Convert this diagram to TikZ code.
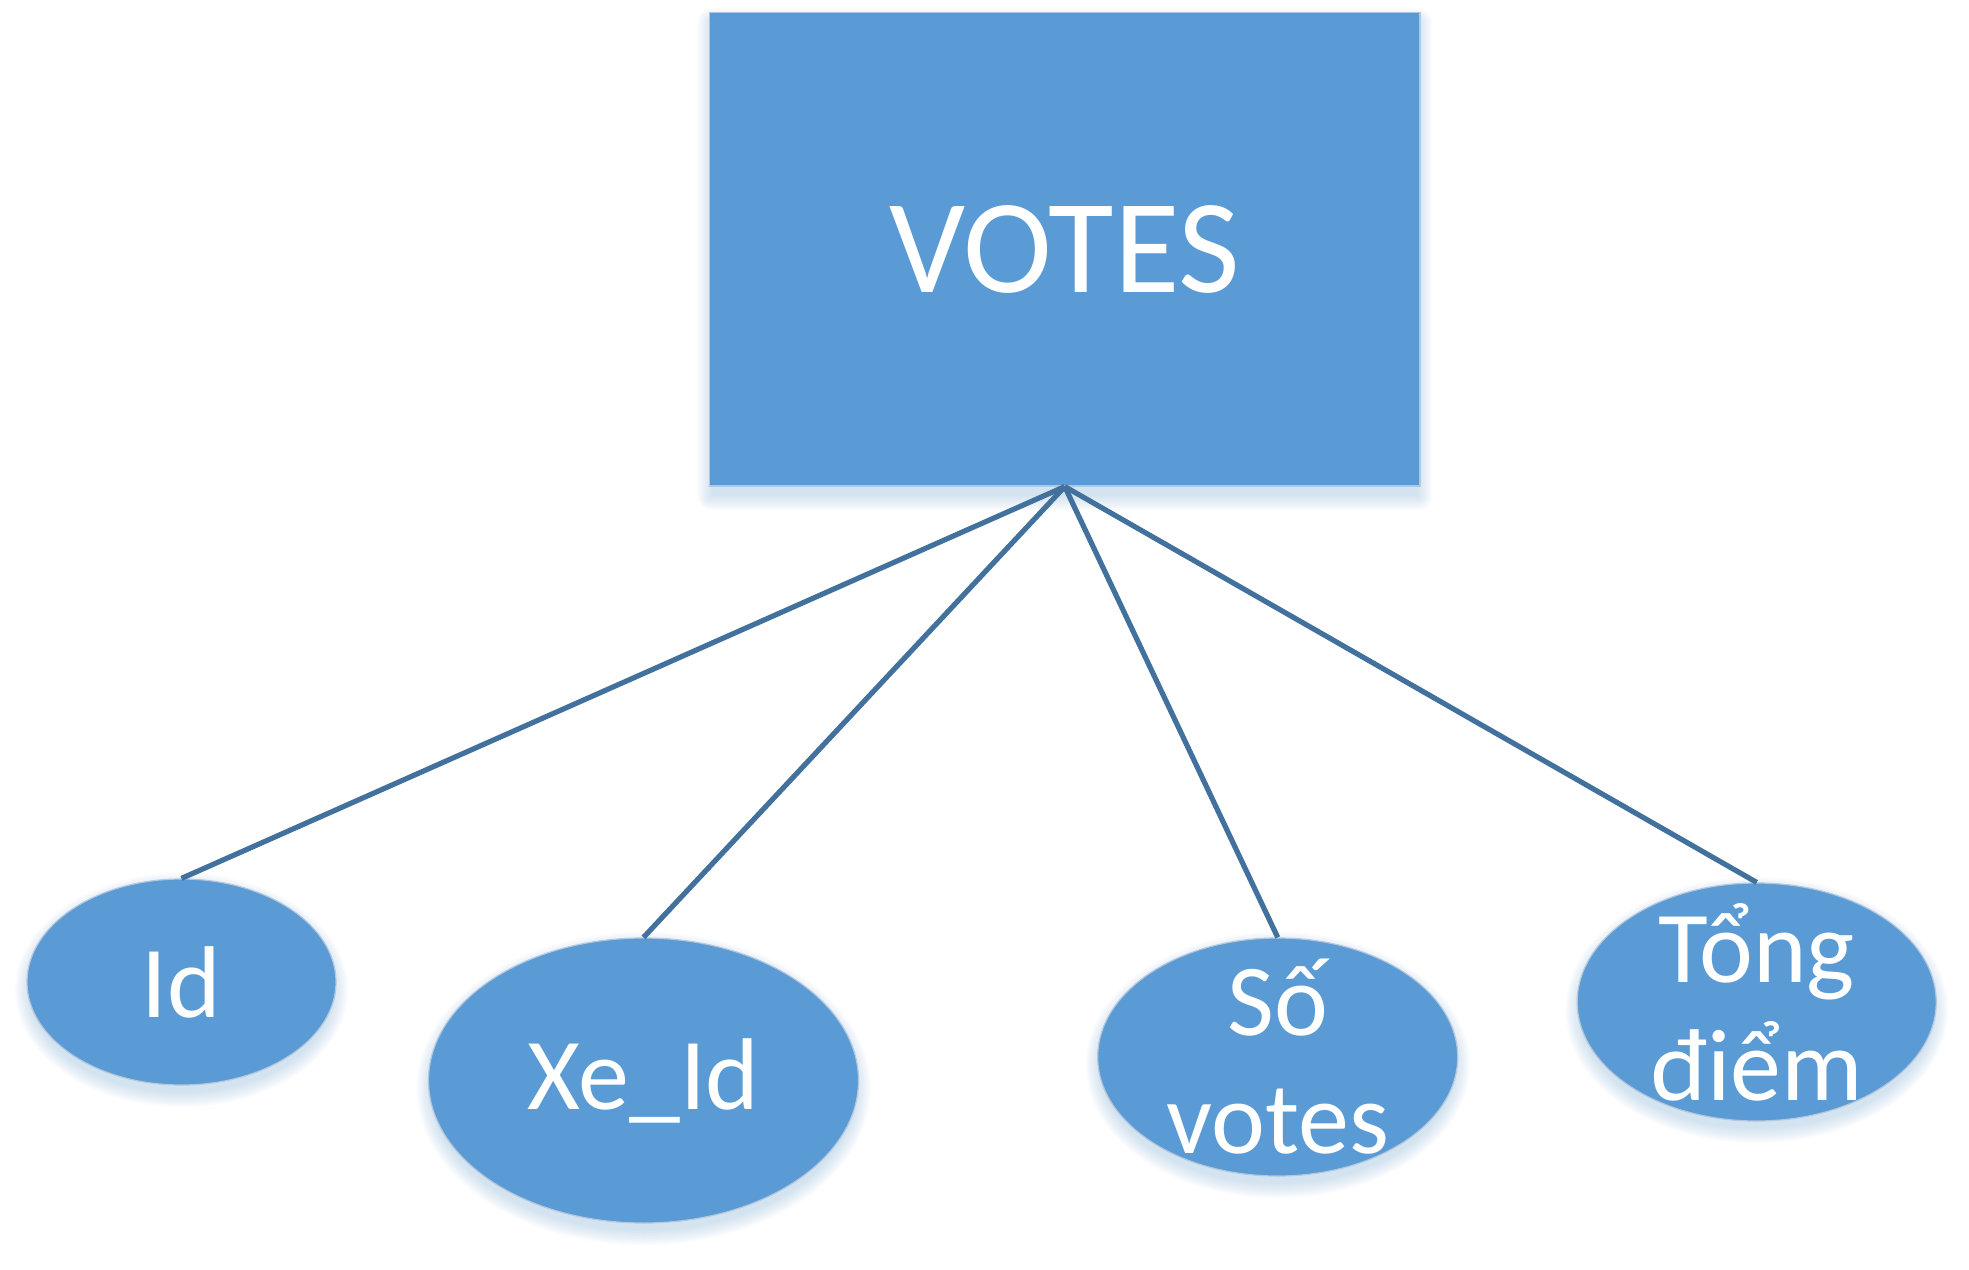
\documentclass[tikz,border=0pt]{standalone}
\usepackage{fontspec}
\setmainfont{Carlito}
\usetikzlibrary{shapes.geometric}
\definecolor{boxblue}{HTML}{5B9BD5}
\definecolor{edgeblue}{HTML}{41719C}
\definecolor{rimgray}{HTML}{B4C7DC}
\definecolor{shadowblue}{HTML}{5B9BD5}
\tikzset{
  entitybox/.style={rectangle, fill=boxblue, draw=rimgray, line width=0.6pt, inner sep=0pt},
  attrell/.style={ellipse, fill=boxblue, draw=rimgray, line width=0.6pt, inner sep=0pt},
  shadowlayer/.style={fill=shadowblue, fill opacity=0.035, draw=none},
  bigtxt/.style={text=white, font=\fontsize{67pt}{80pt}\selectfont, inner sep=0pt},
  attrtxt/.style={text=white, font=\fontsize{51pt}{59pt}\selectfont, align=center, inner sep=0pt},
  link/.style={draw=edgeblue, line width=2.6pt}
}
\begin{document}
\begin{tikzpicture}[x=0.5pt,y=-0.5pt]
\useasboundingbox (0,0) rectangle (1969,1269);
\fill[white] (0,0) rectangle (1969,1269);
% soft shadows
\foreach \g in {0,2,...,14}{
  \fill[shadowlayer, rounded corners=\g*0.5pt] (709.5-\g+2,12.5+10-\g) rectangle (1420+\g-2,486+10+\g);
  \fill[shadowlayer] (181.5,982+8) ellipse [x radius=154.5+\g-2, y radius=103+\g];
  \fill[shadowlayer] (643.5,1080.5+8) ellipse [x radius=215+\g-2, y radius=142.5+\g];
  \fill[shadowlayer] (1277.7,1057+8) ellipse [x radius=180+\g-2, y radius=119+\g];
  \fill[shadowlayer] (1756.7,1002+8) ellipse [x radius=179.5+\g-2, y radius=119+\g];
}
% entity
\node[entitybox, minimum width=355.25pt, minimum height=236.75pt] (votes) at (1064.75,249.25) {};
\node[bigtxt] (votestxt) at (votes) {VOTES};
% attributes
\node[attrell, minimum width=154.5pt, minimum height=103pt] (eid) at (181.5,982) {};
\node[attrell, minimum width=215pt, minimum height=142.5pt] (exe) at (643.5,1080.5) {};
\node[attrell, minimum width=180pt, minimum height=119pt] (eso) at (1277.7,1057) {};
\node[attrell, minimum width=179.5pt, minimum height=119pt] (etong) at (1756.7,1002) {};
\node[attrtxt] (tid) at (eid) {Id};
\node[attrtxt] (txe) at (exe) {Xe\_Id};
\node[attrtxt] (tso) at (eso) {Số\\votes};
\node[attrtxt] (ttong) at (etong) {Tổng\\điểm};
% connectors
\draw[link] (votes.south) -- (eid.north);
\draw[link] (votes.south) -- (exe.north);
\draw[link] (votes.south) -- (eso.north);
\draw[link] (votes.south) -- (etong.north);
\end{tikzpicture}
\end{document}
